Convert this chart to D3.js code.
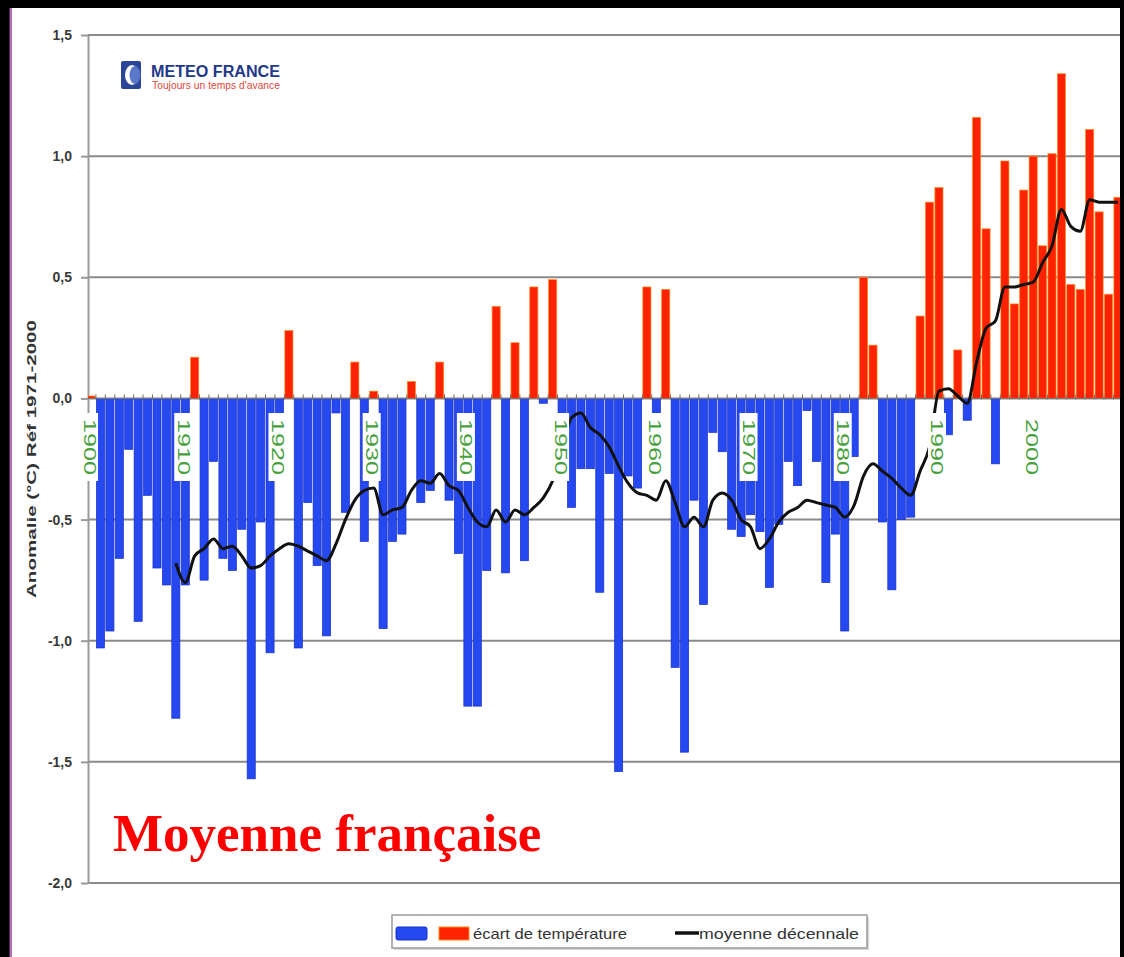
<!DOCTYPE html>
<html>
<head>
<meta charset="utf-8">
<script src="https://d3js.org/d3.v7.min.js"></script>
<style>
  body { margin: 0; background: #000; }
  svg { display: block; }
</style>
</head>
<body>
<svg width="1124" height="957"></svg>
<script>
// anomalies annuelles (°C, réf 1971-2000), une valeur par année depuis 1900
var firstYear = 1900;
var anomalies = [
   0.01, -1.03, -0.96, -0.66, -0.21, -0.92, -0.40, -0.70, -0.77, -1.32,
  -0.77,  0.17, -0.75, -0.26, -0.66, -0.71, -0.54, -1.57, -0.51, -1.05,
  -0.33,  0.28, -1.03, -0.43, -0.69, -0.98, -0.06, -0.47,  0.15, -0.59,
   0.03, -0.95, -0.59, -0.56,  0.07, -0.43, -0.38,  0.15, -0.42, -0.64,
  -1.27, -1.27, -0.71,  0.38, -0.72,  0.23, -0.67,  0.46, -0.02,  0.49,
  -0.10, -0.45, -0.29, -0.29, -0.80, -0.31, -1.54, -0.32, -0.37,  0.46,
  -0.07,  0.45, -1.11, -1.46, -0.42, -0.85, -0.14, -0.22, -0.54, -0.57,
  -0.48, -0.55, -0.78, -0.52, -0.26, -0.36, -0.05, -0.26, -0.76, -0.56,
  -0.96, -0.24,  0.50,  0.22, -0.51, -0.79, -0.50, -0.49,  0.34,  0.81,
   0.87, -0.15,  0.20, -0.09,  1.16,  0.70, -0.27,  0.98,  0.39,  0.86,
   1.00,  0.63,  1.01,  1.34,  0.47,  0.45,  1.11,  0.77,  0.43,  0.83
];

// moyenne décennale (null avant 1909)
var decadal = [
   null,  null,  null,  null,  null,  null,  null,  null,  null, -0.68,
  -0.76, -0.65, -0.62, -0.58, -0.62, -0.61, -0.65, -0.70, -0.69, -0.65,
  -0.62, -0.60, -0.61, -0.63, -0.65, -0.67, -0.60, -0.50, -0.42, -0.38,
  -0.37, -0.48, -0.46, -0.45, -0.38, -0.34, -0.35, -0.31, -0.36, -0.38,
  -0.45, -0.51, -0.53, -0.46, -0.51, -0.46, -0.48, -0.45, -0.41, -0.34,
  -0.21, -0.08, -0.06, -0.12, -0.15, -0.20, -0.28, -0.35, -0.39, -0.40,
  -0.42, -0.34, -0.43, -0.53, -0.49, -0.53, -0.42, -0.39, -0.42, -0.50,
  -0.53, -0.62, -0.58, -0.51, -0.47, -0.45, -0.42, -0.43, -0.44, -0.45,
  -0.49, -0.44, -0.32, -0.27, -0.30, -0.33, -0.37, -0.40, -0.30, -0.20,
   0.03,  0.04,  0.01, -0.02,  0.15,  0.29,  0.32,  0.46,  0.46,  0.47,
   0.48,  0.56,  0.63,  0.78,  0.71,  0.69,  0.82,  0.81,  0.81,  0.81
];

var yTicks = [1.5, 1.0, 0.5, 0.0, -0.5, -1.0, -1.5, -2.0];
var decadeLabels = [1900, 1910, 1920, 1930, 1940, 1950, 1960, 1970, 1980, 1990, 2000];
var legendLabels = ["écart de température", "moyenne décennale"];

var blue = "#2648f0", blueEdge = "#1630c8",
    red = "#ff2200", redEdge = "#ff8a1a",
    green = "#46a03c";

var svg = d3.select("svg"),
    width = +svg.attr("width"),
    height = +svg.attr("height");

var years = anomalies.map(function(d, i) { return firstYear + i; });

var fr = d3.formatLocale({decimal: ",", thousands: " ", grouping: [3], currency: ["", " €"], minus: "-"});
var fmt = fr.format(".1f");

var x = d3.scaleBand()
    .domain(years)
    .range([87, 1122])
    .paddingInner(0.14)
    .paddingOuter(0);

var y = d3.scaleLinear()
    .domain([-2, 1.5])
    .range([883, 35]);

var bw = x.bandwidth();
function cx(yr) { return x(yr) + bw / 2; }

// fond : cadre noir + zone blanche
svg.append("rect").attr("width", width).attr("height", height).attr("fill", "#000");
svg.append("rect").attr("x", 12).attr("y", 8).attr("width", 1108).attr("height", height - 8).attr("fill", "#fff");
svg.append("line")
    .attr("x1", 10.8).attr("x2", 10.8).attr("y1", 8).attr("y2", height)
    .attr("stroke", "#b26fb6").attr("stroke-width", 2.5);

svg.append("defs").append("clipPath").attr("id", "plot")
  .append("rect").attr("x", 88).attr("y", 0).attr("width", 1032).attr("height", height);

// grille
svg.append("g")
    .selectAll("line")
    .data(yTicks)
  .enter().append("line")
    .attr("x1", 88).attr("x2", 1120)
    .attr("y1", function(d) { return y(d); })
    .attr("y2", function(d) { return y(d); })
    .attr("stroke", "#8a8a8a")
    .attr("stroke-width", 2);

// axe vertical
var yAxis = svg.append("g")
    .attr("transform", "translate(88,0)")
    .call(d3.axisLeft(y).tickValues(yTicks).tickFormat(fmt).tickSize(7).tickSizeOuter(0).tickPadding(9));
yAxis.select(".domain").attr("stroke", "#9a9a9a").attr("stroke-width", 2);
yAxis.selectAll(".tick line").attr("stroke", "#9a9a9a").attr("stroke-width", 2);
yAxis.selectAll(".tick text")
    .attr("fill", "#3a3a3a")
    .style("font-family", "'Liberation Sans', Arial, sans-serif")
    .style("font-size", "14px")
    .style("font-weight", "bold");

svg.append("text")
    .attr("transform", "translate(31,459) rotate(-90)")
    .attr("text-anchor", "middle")
    .attr("dominant-baseline", "central")
    .attr("textLength", 278)
    .attr("lengthAdjust", "spacingAndGlyphs")
    .attr("fill", "#333")
    .style("font-family", "'Liberation Sans', Arial, sans-serif")
    .style("font-size", "13px")
    .style("font-weight", "bold")
    .text("Anomalie (°C) Réf 1971-2000");

var plot = svg.append("g").attr("clip-path", "url(#plot)");

// barres
plot.append("g")
    .selectAll("rect")
    .data(years)
  .enter().append("rect")
    .attr("x", function(d) { return x(d); })
    .attr("width", bw)
    .attr("y", function(d, i) { return y(Math.max(0, anomalies[i])); })
    .attr("height", function(d, i) { return Math.abs(y(anomalies[i]) - y(0)); })
    .attr("fill", function(d, i) { return anomalies[i] >= 0 ? red : blue; })
    .attr("stroke", function(d, i) { return anomalies[i] >= 0 ? redEdge : blueEdge; })
    .attr("stroke-width", 0.7);

// axe des abscisses (zéro) et petites graduations
plot.append("line")
    .attr("x1", 88).attr("x2", 1120)
    .attr("y1", y(0)).attr("y2", y(0))
    .attr("stroke", "#7a7a7a").attr("stroke-width", 1);
plot.append("g")
    .selectAll("line")
    .data(years)
  .enter().append("line")
    .attr("x1", function(d) { return x(d) + x.step() - 0.5; })
    .attr("x2", function(d) { return x(d) + x.step() - 0.5; })
    .attr("y1", y(0) - 4).attr("y2", y(0) + 1)
    .attr("stroke", "#6a6a6a").attr("stroke-width", 1);

// moyenne décennale
var lineData = years.map(function(d, i) { return {year: d, v: decadal[i]}; });
plot.append("path")
    .datum(lineData)
    .attr("fill", "none")
    .attr("stroke", "#111")
    .attr("stroke-width", 3)
    .attr("stroke-linejoin", "round")
    .attr("d", d3.line()
        .defined(function(d) { return d.v != null; })
        .x(function(d) { return cx(d.year); })
        .y(function(d) { return y(d.v); })
        .curve(d3.curveMonotoneX));

// étiquettes des décennies
var lab = svg.append("g")
    .selectAll("g")
    .data(decadeLabels)
  .enter().append("g")
    .attr("transform", function(d) { return "translate(" + (cx(d) - 2) + ",447)"; });
lab.append("rect")
    .attr("x", -9).attr("y", -34).attr("width", 18).attr("height", 68)
    .attr("fill", "#fff");
lab.append("text")
    .attr("transform", "rotate(90)")
    .attr("text-anchor", "middle")
    .attr("dominant-baseline", "central")
    .attr("textLength", 56)
    .attr("lengthAdjust", "spacingAndGlyphs")
    .attr("fill", green)
    .style("font-family", "'Liberation Sans', Arial, sans-serif")
    .style("font-size", "17px")
    .text(function(d) { return d; });

// logo Météo-France
var logo = svg.append("g");
logo.append("rect").attr("x", 121).attr("y", 61).attr("width", 20).attr("height", 28).attr("rx", 2).attr("fill", "#2a4595");
logo.append("ellipse").attr("cx", 132).attr("cy", 75).attr("rx", 7).attr("ry", 10).attr("fill", "#fff");
logo.append("ellipse").attr("cx", 135).attr("cy", 75).attr("rx", 5.5).attr("ry", 9).attr("fill", "#5a78c8");
logo.append("text")
    .attr("x", 151).attr("y", 77)
    .attr("textLength", 129).attr("lengthAdjust", "spacingAndGlyphs")
    .attr("fill", "#22398a")
    .style("font-family", "'Liberation Sans', Arial, sans-serif")
    .style("font-size", "16px").style("font-weight", "bold")
    .text("METEO FRANCE");
logo.append("text")
    .attr("x", 152).attr("y", 89)
    .attr("textLength", 128).attr("lengthAdjust", "spacingAndGlyphs")
    .attr("fill", "#e0483c")
    .style("font-family", "'Liberation Sans', Arial, sans-serif")
    .style("font-size", "10px")
    .text("Toujours un temps d'avance");

// titre
svg.append("text")
    .attr("x", 113).attr("y", 851)
    .attr("fill", "#ff0000")
    .style("font-family", "'Liberation Serif', 'Times New Roman', serif")
    .style("font-size", "53px").style("font-weight", "bold")
    .text("Moyenne française");

// légende
var leg = svg.append("g");
leg.append("rect").attr("x", 394).attr("y", 917).attr("width", 475).attr("height", 33).attr("fill", "#d8d8d8");
leg.append("rect").attr("x", 392).attr("y", 915).attr("width", 475).attr("height", 33)
    .attr("fill", "#fff").attr("stroke", "#9a9a9a").attr("stroke-width", 1.5);
leg.append("rect").attr("x", 396).attr("y", 927).attr("width", 31).attr("height", 13).attr("rx", 2)
    .attr("fill", blue).attr("stroke", blueEdge);
leg.append("rect").attr("x", 439).attr("y", 927).attr("width", 30).attr("height", 13)
    .attr("fill", red).attr("stroke", redEdge);
leg.append("text").attr("x", 473).attr("y", 939)
    .attr("textLength", 154).attr("lengthAdjust", "spacingAndGlyphs")
    .attr("fill", "#333")
    .style("font-family", "'Liberation Sans', Arial, sans-serif").style("font-size", "15px")
    .text(legendLabels[0]);
leg.append("line").attr("x1", 675).attr("x2", 699).attr("y1", 933).attr("y2", 933)
    .attr("stroke", "#111").attr("stroke-width", 3.5);
leg.append("text").attr("x", 699).attr("y", 939)
    .attr("textLength", 160).attr("lengthAdjust", "spacingAndGlyphs")
    .attr("fill", "#333")
    .style("font-family", "'Liberation Sans', Arial, sans-serif").style("font-size", "15px")
    .text(legendLabels[1]);

// bord droit noir
svg.append("rect").attr("x", 1120).attr("y", 0).attr("width", 4).attr("height", height).attr("fill", "#000");
</script>
</body>
</html>
